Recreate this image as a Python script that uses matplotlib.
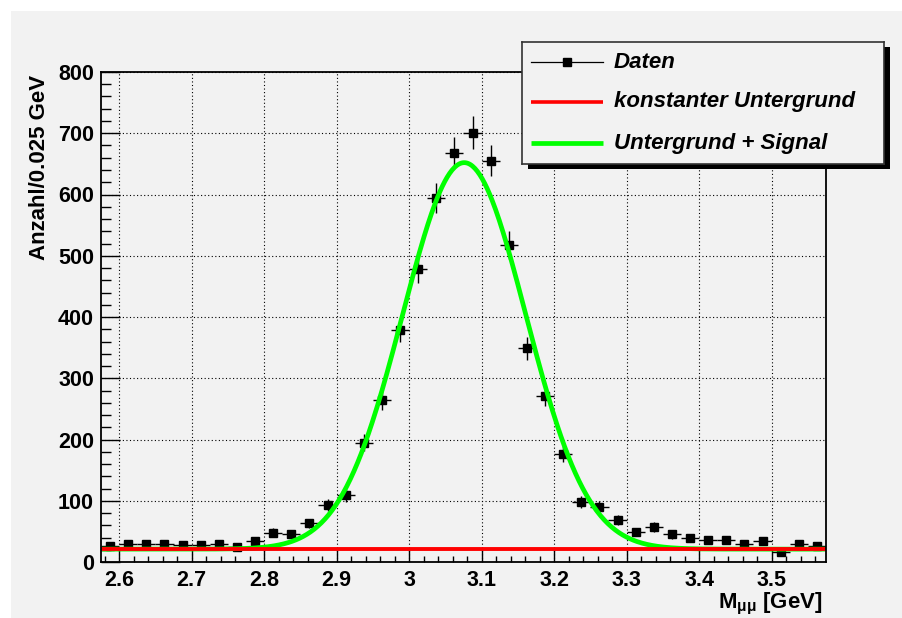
"""
Dimuon invariant mass spectrum around the J/psi peak with a
Gaussian + constant background fit.
"""

import numpy as np
import matplotlib.pyplot as plt
from matplotlib.patches import Rectangle
from matplotlib.lines import Line2D
from matplotlib.ticker import MultipleLocator, FuncFormatter

plt.rcParams["font.family"] = ["Liberation Sans", "DejaVu Sans"]
plt.rcParams["font.weight"] = "bold"
plt.rcParams["mathtext.default"] = "regular"

# histogram: 40 bins of 0.025 GeV from 2.575 to 3.575
BIN_WIDTH = 0.025
bin_centers = 2.5875 + BIN_WIDTH * np.arange(40)
counts = [
    26, 29, 29, 29, 27, 27, 30, 24, 35, 48,
    46, 63, 93, 109, 195, 264, 379, 478, 594, 668,
    701, 655, 517, 349, 271, 176, 98, 90, 68, 49,
    57, 45, 39, 36, 36, 29, 35, 17, 30, 26,
]

# fit result: constant background + gaussian signal
bg_level = 21.0
sig_amp = 631.0
sig_mean = 3.076
sig_sigma = 0.085

legend_labels = ["Daten", "konstanter Untergrund", "Untergrund + Signal"]

PAD_GRAY = "#f2f2f2"
W, H = 902, 618


def fx(px):
    return px / W


def fy(py):
    return 1 - py / H


fig = plt.figure(figsize=(W / 100, H / 100), dpi=100, facecolor="white")

# canvas background
fig.patches.append(Rectangle((fx(11), 0), 1 - fx(11), fy(11), transform=fig.transFigure,
                             facecolor=PAD_GRAY, edgecolor="none", zorder=-5))

ax = fig.add_axes([fx(101), fy(562), fx(826) - fx(101), fy(72) - fy(562)])
ax.set_facecolor(PAD_GRAY)

counts_arr = np.array(counts, dtype=float)
ax.errorbar(bin_centers, counts_arr, xerr=BIN_WIDTH / 2, yerr=np.sqrt(counts_arr),
            fmt="s", color="black", ms=5.8, elinewidth=1.0, capsize=0, zorder=3)

xs = np.linspace(2.575, 3.575, 600)
ax.plot(xs, bg_level + sig_amp * np.exp(-0.5 * ((xs - sig_mean) / sig_sigma) ** 2),
        color="#00ff00", lw=3.4, zorder=4, solid_capstyle="butt")
ax.plot([2.575, 3.575], [bg_level, bg_level], color="#ff0000", lw=2.8, zorder=5,
        solid_capstyle="butt")

ax.set_xlim(2.575, 3.575)
ax.set_ylim(0, 800)
ax.xaxis.set_major_locator(MultipleLocator(0.1))
ax.xaxis.set_minor_locator(MultipleLocator(0.02))
ax.yaxis.set_major_locator(MultipleLocator(100))
ax.yaxis.set_minor_locator(MultipleLocator(20))
ax.xaxis.set_major_formatter(FuncFormatter(lambda v, p: "%g" % round(v, 3)))
ax.tick_params(axis="both", which="both", direction="in", top=False, right=False,
               width=1.0, color="black", labelsize=15.5)
ax.tick_params(axis="x", which="major", length=9, pad=6)
ax.tick_params(axis="x", which="minor", length=4.5)
ax.tick_params(axis="y", which="major", length=14, pad=5)
ax.tick_params(axis="y", which="minor", length=7)
for lab in ax.get_xticklabels() + ax.get_yticklabels():
    lab.set_fontweight("bold")
for sp in ax.spines.values():
    sp.set_linewidth(1.3)
    sp.set_zorder(6)
ax.grid(which="major", color="black", linestyle=(0, (1, 2.2)), linewidth=0.8)
ax.set_axisbelow(True)

# axis titles
fig.text(fx(40), fy(75), "Anzahl/0.025 GeV", rotation=90, ha="center", va="top",
         fontsize=16, fontweight="bold")
fig.text(fx(823), fy(608), r"M$_{μμ}$ [GeV]", ha="right", va="baseline",
         fontsize=16, fontweight="bold")

# legend box with drop shadow
lx0, lx1, ly0, ly1 = 522, 884, 42, 164
fig.patches.append(Rectangle((fx(lx0 + 6), fy(ly1 + 5)), fx(lx1 - lx0), fy(ly0) - fy(ly1),
                             transform=fig.transFigure, facecolor="black",
                             edgecolor="none", zorder=7))
leg = fig.add_axes([fx(lx0), fy(ly1), fx(lx1) - fx(lx0), fy(ly0) - fy(ly1)], zorder=8)
leg.set_facecolor(PAD_GRAY)
leg.set_xlim(0, lx1 - lx0)
leg.set_ylim(ly1 - ly0, 0)
leg.set_xticks([])
leg.set_yticks([])
for sp in leg.spines.values():
    sp.set_linewidth(1.2)
    sp.set_color("#333333")

row_y = [20, 60, 101]
leg.add_line(Line2D([9, 81], [row_y[0]] * 2, color="black", lw=0.9))
leg.add_line(Line2D([45], [row_y[0]], marker="s", ms=5.5, color="black"))
leg.add_line(Line2D([9, 81], [row_y[1]] * 2, color="#ff0000", lw=2.6, solid_capstyle="butt"))
leg.add_line(Line2D([9, 81], [row_y[2]] * 2, color="#00ff00", lw=3.4, solid_capstyle="butt"))
for yy, label in zip(row_y, legend_labels):
    leg.text(92, yy, label, ha="left", va="center", fontsize=16,
             fontweight="bold", fontstyle="italic")

fig.savefig("out.png", dpi=100, facecolor=fig.get_facecolor())
plt.close(fig)
